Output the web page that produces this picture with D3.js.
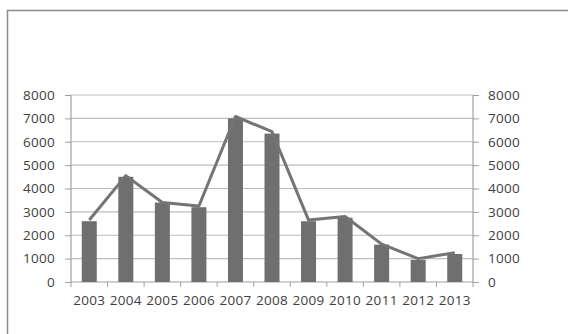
<!DOCTYPE html>
<html>
<head>
<meta charset="utf-8">
<script src="https://cdn.jsdelivr.net/npm/d3@7"></script>
<style>
  body { margin: 0; background: #fff; }
  svg text { font-family: "Open Sans", "Liberation Sans", sans-serif; font-size: 13.5px; letter-spacing: 0.3px; fill: #404040; }
</style>
</head>
<body>
<svg id="canvas" width="568" height="334"></svg>
<script>
const years = ['2003','2004','2005','2006','2007','2008','2009','2010','2011','2012','2013']
const barValues = [2600, 4500, 3400, 3200, 7000, 6350, 2600, 2750, 1600, 950, 1200]
const lineValues = [2650, 4550, 3400, 3250, 7080, 6430, 2650, 2800, 1620, 1000, 1250]
const yTicks = [0, 1000, 2000, 3000, 4000, 5000, 6000, 7000, 8000]

const svg = d3.select('#canvas')

// outer frame
svg.append('path')
    .attr('d', 'M7.5,340 V10.5 H570')
    .attr('fill', 'none')
    .attr('stroke', '#8a8a8a')
    .attr('stroke-width', 1.5)

const plotL = 71, plotR = 473, plotT = 95, plotB = 282

const x = d3.scaleBand().domain(years).range([plotL, plotR])
const yL = d3.scaleLinear().domain([0, 8000]).range([plotB, plotT])
const yR = d3.scaleLinear().domain([0, 8000]).range([plotB, plotT])

// gridlines
svg.append('g')
    .selectAll('line')
    .data(yTicks.filter(d => d > 0))
    .enter()
    .append('line')
    .attr('x1', plotL).attr('x2', plotR)
    .attr('y1', d => yL(d)).attr('y2', d => yL(d))
    .attr('stroke', '#bdbdbd')
    .attr('stroke-width', 1.2)

// axes
const axL = svg.append('g')
    .attr('transform', `translate(${plotL},0)`)
    .call(d3.axisLeft(yL).tickValues(yTicks).tickSize(6).tickPadding(10).tickFormat(d3.format('d')))
const axR = svg.append('g')
    .attr('transform', `translate(${plotR},0)`)
    .call(d3.axisRight(yR).tickValues(yTicks).tickSize(6).tickPadding(9).tickFormat(d3.format('d')))

const axB = svg.append('g')
    .attr('transform', `translate(0,${plotB})`)
    .call(d3.axisBottom(x).tickSize(0).tickPadding(13))
// category tick marks at band boundaries
axB.selectAll('.sep')
    .data(d3.range(years.length + 1))
    .enter()
    .append('line')
    .attr('class', 'sep')
    .attr('x1', i => plotL + i * x.step()).attr('x2', i => plotL + i * x.step())
    .attr('y1', 0).attr('y2', 5)
    .attr('stroke', '#a0a0a0')

;[axL, axR, axB].forEach(g => {
    g.select('.domain').attr('stroke', '#a0a0a0').attr('stroke-width', 1.2)
    g.selectAll('.tick line').attr('stroke', '#a0a0a0')
    g.selectAll('text').attr('font-size', null).attr('font-family', null).attr('fill', '#404040')
})
axL.select('.domain').attr('d', `M0,${plotT}V${plotB}`)
axR.select('.domain').attr('d', `M0,${plotT}V${plotB}`)
axB.select('.domain').attr('d', `M${plotL},0H${plotR}`)

// bars
const barW = 15
svg.append('g')
    .selectAll('rect')
    .data(years.map((y, i) => ({year: y, v: barValues[i]})))
    .enter()
    .append('rect')
    .attr('x', d => x(d.year) + x.bandwidth() / 2 - barW / 2)
    .attr('width', barW)
    .attr('y', d => yL(d.v))
    .attr('height', d => plotB - yL(d.v))
    .attr('fill', '#6f6f6f')

// line on secondary axis
const line = d3.line()
    .x((d, i) => x(years[i]) + x.bandwidth() / 2)
    .y(d => yR(d))
svg.append('path')
    .datum(lineValues)
    .attr('d', line)
    .attr('fill', 'none')
    .attr('stroke', '#747474')
    .attr('stroke-width', 3)
    .attr('stroke-linejoin', 'round')
</script>
</body>
</html>
